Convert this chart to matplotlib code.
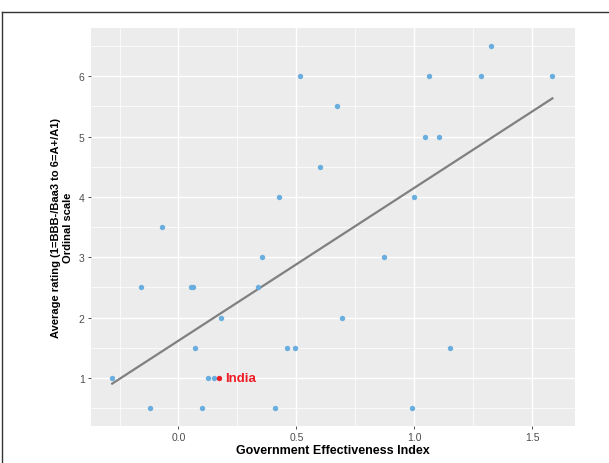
import matplotlib
matplotlib.use("Agg")
import matplotlib.pyplot as plt
from matplotlib.lines import Line2D
from matplotlib.ticker import MultipleLocator
import numpy as np

plt.rcParams['font.family'] = ['Liberation Sans', 'DejaVu Sans']

# government effectiveness vs average rating
gov_eff = [-0.281, -0.120, 0.071, 0.099, 0.123, 0.150, 0.182, 0.409, 0.462, 0.494,
           0.693, 0.992, 1.152, 0.517, 0.674, 1.060, 1.281, 1.326, 1.585, 1.043,
           1.104, -0.160, -0.069, 0.051, 0.063, 0.337, 0.356, 0.428, 0.602, 0.870,
           0.998]
rating = [1.0, 0.5, 1.5, 0.5, 1.0, 1.0, 2.0, 0.5, 1.5, 1.5,
          2.0, 0.5, 1.5, 6.0, 5.5, 6.0, 6.0, 6.5, 6.0, 5.0,
          5.0, 2.5, 3.5, 2.5, 2.5, 2.5, 3.0, 4.0, 4.5, 3.0,
          4.0]
india_x = 0.172
india_y = 1.0

x = np.array(gov_eff + [india_x])
y = np.array(rating + [india_y])
slope, icpt = np.polyfit(x, y, 1)

fig = plt.figure(figsize=(6.09, 4.64), dpi=100)
ax = fig.add_axes([0.1494, 0.0797, 0.7948, 0.8578])
ax.set_facecolor('#EBECEB')
for s in ax.spines.values():
    s.set_visible(False)

ax.xaxis.set_major_locator(MultipleLocator(0.5))
ax.xaxis.set_minor_locator(MultipleLocator(0.25))
ax.yaxis.set_major_locator(MultipleLocator(1))
ax.yaxis.set_minor_locator(MultipleLocator(0.5))
ax.grid(True, which='major', color='white', linewidth=1.0)
ax.grid(True, which='minor', color='white', linewidth=0.5)
ax.set_axisbelow(True)
ax.tick_params(which='major', length=2.5, width=0.6, color='#333333',
               labelsize=7.5, labelcolor='#4D4D4D', pad=2)
ax.tick_params(which='minor', length=0)

xl = np.array([x.min(), x.max()])
ax.plot(xl, icpt + slope * xl, color='#808080', linewidth=1.6, zorder=2)
ax.scatter(gov_eff, rating, s=15, color='#6AAEE0', linewidths=0, zorder=3)
ax.scatter([india_x], [india_y], s=15, color='#EE1C25', linewidths=0, zorder=4)
ax.text(india_x + 0.025, india_y, 'India', color='#EE1C25', fontsize=9.5,
        fontweight='bold', va='center', ha='left')

ax.set_xlim(-0.371, 1.681)
ax.set_ylim(0.204, 6.80)
ax.set_xlabel('Government Effectiveness Index', fontsize=9, fontweight='bold', labelpad=1)
ax.set_ylabel('Average rating (1=BBB-/Baa3 to 6=A+/A1)\nOrdinal scale',
              fontsize=8, fontweight='bold', labelpad=4, linespacing=1.3)

# border lines on top and left
fig.add_artist(Line2D([0.004, 1.0], [0.972, 0.972], color='#333333', linewidth=1.0))
fig.add_artist(Line2D([0.004, 0.004], [0.0, 0.972], color='#333333', linewidth=1.0))

fig.savefig('out.png', dpi=100)
